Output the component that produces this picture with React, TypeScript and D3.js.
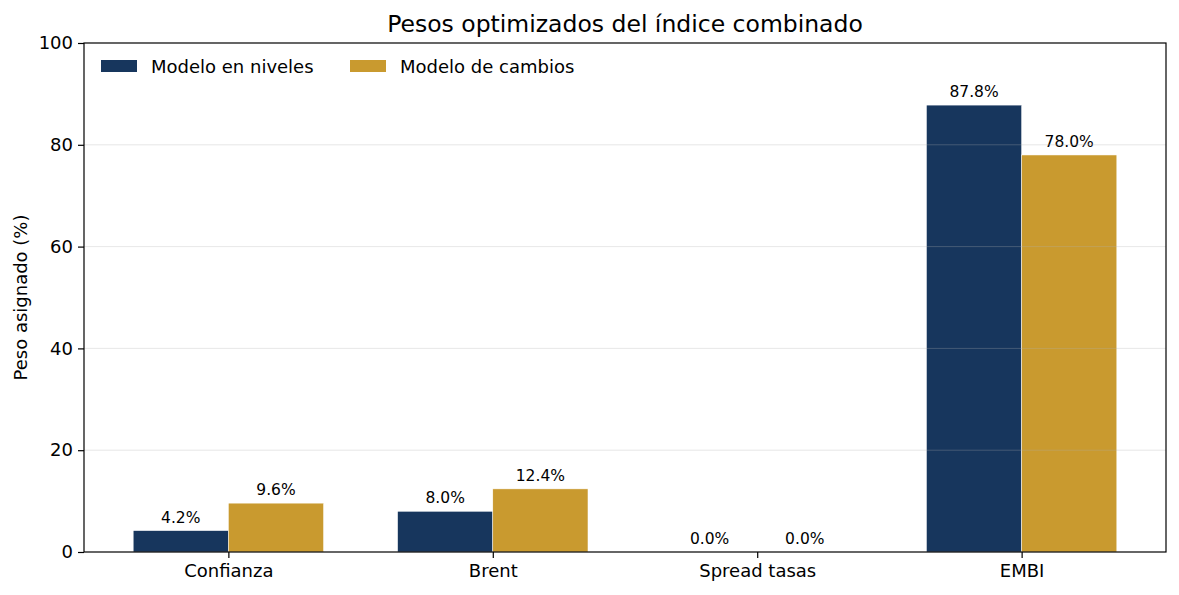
import React, { useRef, useEffect } from 'react';
import * as d3 from 'd3';

const categories = ['Confianza', 'Brent', 'Spread tasas', 'EMBI'];
const nivelesValues = [4.2, 8.0, 0.0, 87.8];
const cambiosValues = [9.6, 12.4, 0.0, 78.0];
const yTicks = [0, 20, 40, 60, 80, 100];

const seriesNames = ['Modelo en niveles', 'Modelo de cambios'];
const seriesColors = ['#17365d', '#c99a2f'];

const width = 1179;
const height = 595;

const App: React.FC = () => {
  const svgRef = useRef<SVGSVGElement>(null);

  useEffect(() => {
    if (!svgRef.current) return;
    const svg = d3.select(svgRef.current);
    svg.selectAll('*').remove();

    const margin = { top: 43, right: 13, bottom: 43, left: 84 };
    const innerWidth = width - margin.left - margin.right;
    const innerHeight = height - margin.top - margin.bottom;
    const font = 'DejaVu Sans, sans-serif';
    const barW = 0.36;
    const pad = (categories.length - 1 + 2 * barW) * 0.05;

    const xScale = d3.scaleLinear()
      .domain([-barW - pad, categories.length - 1 + barW + pad])
      .range([0, innerWidth]);

    const yScale = d3.scaleLinear()
      .domain([0, 100])
      .range([innerHeight, 0]);

    const g = svg.append('g')
      .attr('transform', `translate(${margin.left},${margin.top})`);

    // bars
    const series = [nivelesValues, cambiosValues];
    series.forEach((vals, s) => {
      const offset = s === 0 ? -barW : 0;
      g.selectAll(`.bar-${s}`)
        .data(vals)
        .enter().append('rect')
        .attr('x', (d, i) => xScale(i + offset))
        .attr('y', d => yScale(d))
        .attr('width', xScale(barW) - xScale(0))
        .attr('height', d => innerHeight - yScale(d))
        .attr('fill', seriesColors[s])
        .attr('stroke', 'white')
        .attr('stroke-width', 0.5);

      g.selectAll(`.lbl-${s}`)
        .data(vals)
        .enter().append('text')
        .attr('x', (d, i) => xScale(i + offset + barW / 2))
        .attr('y', d => yScale(d) - 8)
        .attr('text-anchor', 'middle')
        .style('font-family', font)
        .style('font-size', '15.5px')
        .style('fill', '#000')
        .text(d => `${d.toFixed(1)}%`);
    });

    // grid (drawn over bars, light)
    g.append('g')
      .selectAll('line')
      .data(yTicks.slice(1, -1))
      .enter().append('line')
      .attr('x1', 0)
      .attr('x2', innerWidth)
      .attr('y1', d => yScale(d))
      .attr('y2', d => yScale(d))
      .attr('stroke', '#b0b0b0')
      .attr('stroke-opacity', 0.3)
      .attr('stroke-width', 1);

    // frame
    g.append('rect')
      .attr('width', innerWidth)
      .attr('height', innerHeight)
      .attr('fill', 'none')
      .attr('stroke', '#000')
      .attr('stroke-width', 1.2);

    // y axis
    const yAxis = g.append('g')
      .call(d3.axisLeft(yScale).tickValues(yTicks).tickSize(6).tickPadding(5).tickFormat(d => `${d}`));
    yAxis.select('.domain').remove();
    yAxis.selectAll('line').attr('stroke', '#000').attr('stroke-width', 1.2);
    yAxis.selectAll('text')
      .style('font-family', font)
      .style('font-size', '18px')
      .style('fill', '#000');

    // x axis
    const xAxis = g.append('g')
      .attr('transform', `translate(0,${innerHeight})`)
      .call(d3.axisBottom(xScale).tickValues(d3.range(categories.length)).tickSize(6).tickPadding(6)
        .tickFormat(d => categories[d as number]));
    xAxis.select('.domain').remove();
    xAxis.selectAll('line').attr('stroke', '#000').attr('stroke-width', 1.2);
    xAxis.selectAll('text')
      .style('font-family', font)
      .style('font-size', '18px')
      .style('fill', '#000');

    // y label
    svg.append('text')
      .attr('transform', `translate(27,${margin.top + innerHeight / 2}) rotate(-90)`)
      .attr('text-anchor', 'middle')
      .style('font-family', font)
      .style('font-size', '18px')
      .text('Peso asignado (%)');

    // title
    svg.append('text')
      .attr('x', margin.left + innerWidth / 2)
      .attr('y', 32)
      .attr('text-anchor', 'middle')
      .style('font-family', font)
      .style('font-size', '23.5px')
      .text('Pesos optimizados del índice combinado');

    // legend
    const legendX = [17, 266];
    const legend = g.selectAll('.legend')
      .data(seriesNames)
      .enter().append('g')
      .attr('transform', (d, i) => `translate(${legendX[i]}, 17)`);
    legend.append('rect')
      .attr('width', 36)
      .attr('height', 12)
      .attr('fill', (d, i) => seriesColors[i]);
    legend.append('text')
      .attr('x', 50)
      .attr('y', 13)
      .style('font-family', font)
      .style('font-size', '18px')
      .text(d => d);
  }, []);

  return <svg ref={svgRef} width={width} height={height} style={{ display: 'block', margin: -8 }} />;
};

export default App;
